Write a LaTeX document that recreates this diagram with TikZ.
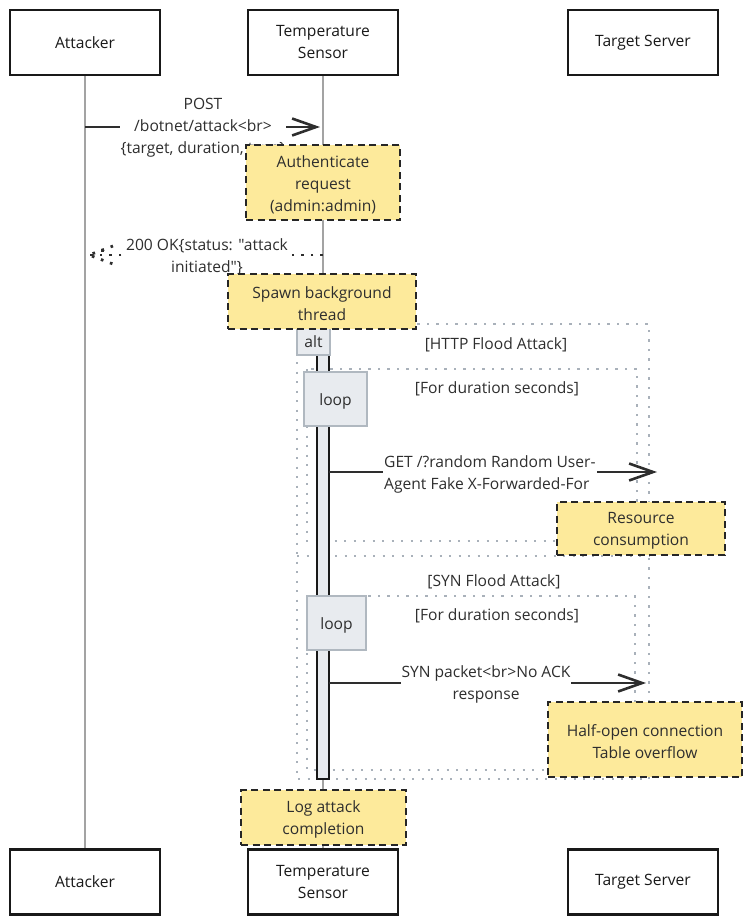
\documentclass[tikz,border=0pt]{standalone}
\usepackage{fontspec}
\setmainfont{Open Sans}[Ligatures=TeXOff]
\usetikzlibrary{arrows.meta}

\definecolor{ink}{HTML}{2E2E2E}
\definecolor{notefill}{HTML}{FDEA9B}
\definecolor{framegray}{HTML}{A9B1BA}
\definecolor{labelfill}{HTML}{E8EBEF}
\definecolor{labeldraw}{HTML}{B0B8C0}
\definecolor{lifegray}{HTML}{A3A3A3}

\newcommand\dtxt{\fontsize{15.6}{22}\selectfont}

\tikzset{
  actor/.style={draw=black!90, line width=2.2pt, fill=white, minimum width=150pt,
    minimum height=65pt, inner sep=0pt, align=center, font=\dtxt, text=black!90},
  lifeline/.style={draw=lifegray, line width=1.4pt},
  frame/.style={draw=framegray, line width=2.6pt, dash pattern=on 2.2pt off 7.3pt},
  framelabel/.style={font=\dtxt, text=ink, inner sep=0pt},
  tagbox/.style={draw=labeldraw, fill=labelfill, line width=2pt, inner sep=0pt},
  activation/.style={draw=black!90, fill=labelfill, line width=2.2pt},
  msg/.style={draw=ink, line width=2.8pt, -{Straight Barb[length=24pt,width=17pt,line width=2.6pt]}},
  retline/.style={draw=ink, line width=2.8pt, dash pattern=on 2.6pt off 7pt},
  msglabel/.style={font=\dtxt, text=ink, fill=white, inner sep=1pt, align=center},
  note/.style={draw=black!85, fill=notefill, line width=2.6pt, dash pattern=on 7pt off 4.5pt,
    inner sep=0pt},
  inscribed/.style={font=\dtxt, text=ink, align=center, inner sep=0pt, yshift=-2pt}
}

\begin{document}
\begin{tikzpicture}[x=1pt,y=-1pt]
\useasboundingbox (0,0) rectangle (751,924);

% participants, top and bottom
\node[actor] (atkTop) at (85,42.5) {Attacker};
\node[actor] (senTop) at (323,42.5) {Temperature\\Sensor};
\node[actor] (srvTop) at (643,42.5) {Target Server};
\node[actor] (atkBot) at (85,882) {Attacker};
\node[actor] (senBot) at (323,882) {Temperature\\Sensor};
\node[actor] (srvBot) at (643,882) {Target Server};

% lifelines
\draw[lifeline] (atkTop.south) -- (atkBot.north);
\draw[lifeline] (senTop.south) -- (senBot.north);
\draw[lifeline, double=white, double distance=1.2pt, line width=0.8pt] (srvTop.south) -- (srvBot.north);

% alt frame with its separator, and the two loop frames
\draw[frame] (297,324) rectangle (649,779);
\draw[frame] (297,556) -- (649,556);
\draw[frame] (307,369) rectangle (637,541);
\draw[frame] (307,596) rectangle (635,770);

% activation bar of the sensor
\draw[activation] (317,330) rectangle (329,779);

% fragment tags and guards
\node[tagbox, minimum width=33pt, minimum height=31pt] (altTag) at (313.5,339.5) {};
\node[inscribed] (altTagText) at (altTag.center) {alt};
\node[tagbox, minimum width=63pt, minimum height=54pt] (loopTagA) at (335.5,399) {};
\node[inscribed] (loopTagAText) at (loopTagA.center) {loop};
\node[tagbox, minimum width=59pt, minimum height=54pt] (loopTagB) at (336.5,623) {};
\node[inscribed] (loopTagBText) at (loopTagB.center) {loop};
\node[framelabel] (guardHttp) at (496,345) {[HTTP Flood Attack]};
\node[framelabel] (guardLoopA) at (497,389) {[For duration seconds]};
\node[framelabel] (guardSyn) at (494,582) {[SYN Flood Attack]};
\node[framelabel] (guardLoopB) at (497,616) {[For duration seconds]};

% message end points on the lifelines
\coordinate (postFrom) at (85,127);
\coordinate (postTo) at (320,127);
\coordinate (okFrom) at (323,255);
\coordinate (okTo) at (89,255);
\coordinate (getFrom) at (329,472);
\coordinate (getTo) at (657,472);
\coordinate (synFrom) at (329,683);
\coordinate (synTo) at (646,683);

% POST request
\draw[msg] (postFrom) -- (postTo);
\node[msglabel] (postLbl) at (203,128) {POST\\/botnet/attack<br>\\\{target, duration, type\}};

% 200 OK reply (dotted, open head)
\draw[retline] (okFrom) -- (okTo);
\draw[retline] (okTo) ++(24,-9) -- (okTo) -- ++(24,9);
\draw[retline] (okTo) ++(12,-4.5) -- ++(6,0);
\node[msglabel] (okLbl) at (207,257) {200 OK\{status: "attack\\initiated"\}};

% HTTP flood request
\draw[msg] (getFrom) -- (getTo);
\node[msglabel, align=left, anchor=west] (getLbl) at (383,474) {GET /?random Random User-\\Agent Fake X-Forwarded-For};

% SYN flood packet
\draw[msg] (synFrom) -- (synTo);
\node[msglabel] (synLbl) at (486,684) {SYN packet<br>No ACK\\response};

% notes
\node[note, minimum width=154pt, minimum height=75pt] (noteAuth) at (323,182.5) {};
\node[inscribed] (noteAuthText) at (noteAuth.center) {Authenticate\\request\\(admin:admin)};
\node[note, minimum width=188pt, minimum height=55pt] (noteSpawn) at (322,301.5) {};
\node[inscribed] (noteSpawnText) at (noteSpawn.center) {Spawn background\\thread};
\node[note, minimum width=168pt, minimum height=53pt] (noteRes) at (641,528.5) {};
\node[inscribed] (noteResText) at (noteRes.center) {Resource\\consumption};
\node[note, minimum width=194pt, minimum height=75pt] (noteHalf) at (645,739.5) {};
\node[inscribed] (noteHalfText) at (noteHalf.center) {Half-open connection\\Table overflow};
\node[note, minimum width=165pt, minimum height=55pt] (noteLog) at (323.5,817.5) {};
\node[inscribed] (noteLogText) at (noteLog.center) {Log attack\\completion};

\end{tikzpicture}
\end{document}
